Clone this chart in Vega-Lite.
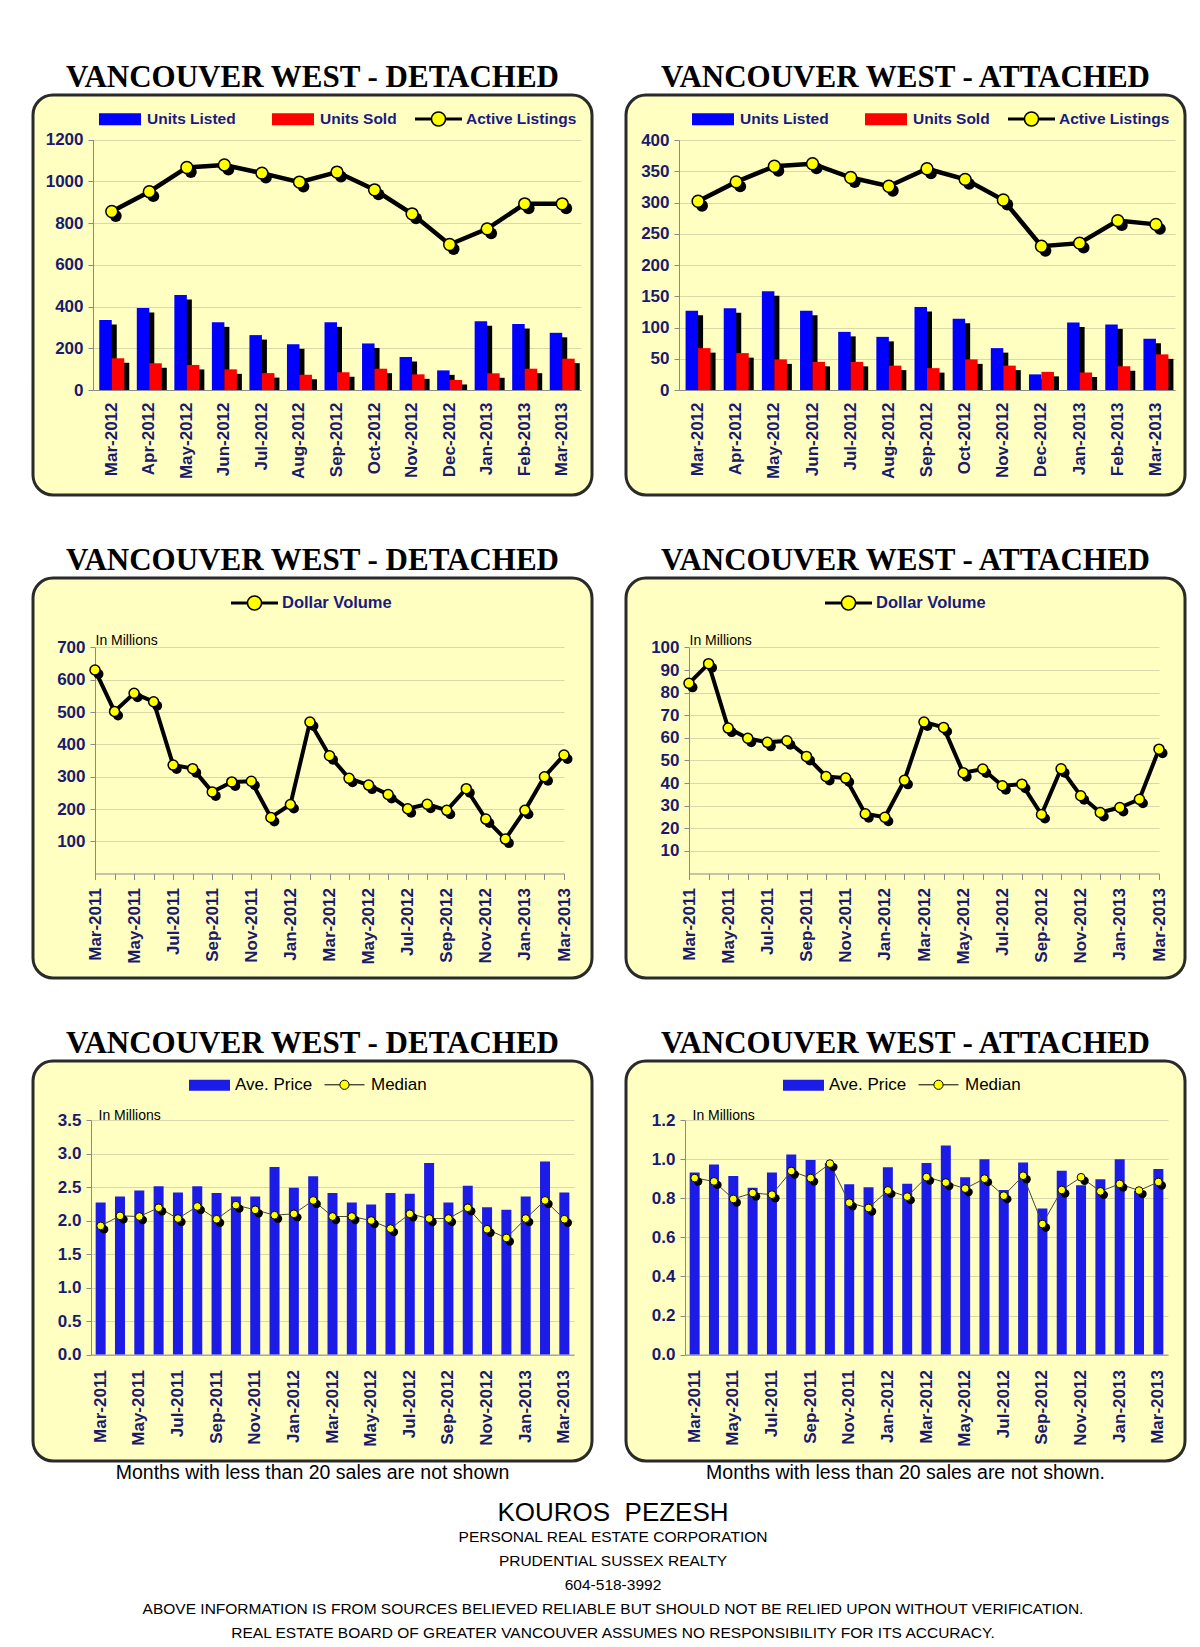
{
"$schema": "https://vega.github.io/schema/vega-lite/v6.json",
"background": "white",
"padding": {"left": 31, "top": 60, "right": 8, "bottom": 2},
"config": {
  "view": {"stroke": null},
  "axis": {"labelFont": "Liberation Sans", "labelFontWeight": "bold", "labelFontSize": 17, "labelColor": "#1a1a6e", "domainColor": "#8a8a8a", "tickColor": "#8a8a8a", "gridColor": "#d8d8a8", "labelOverlap": false, "titleFont": "Liberation Sans", "titleFontWeight": "normal", "titleFontSize": 14, "titleColor": "black"},
  "legend": {"labelFont": "Liberation Sans", "labelFontWeight": "bold", "labelFontSize": 15.5, "labelColor": "#1a1a80", "orient": "none", "direction": "horizontal", "padding": 0, "labelLimit": 300},
  "title": {"font": "Liberation Serif", "fontSize": 31, "fontWeight": "bold", "color": "black", "anchor": "middle", "offset": 1}
},
"resolve": {"scale": {"fill": "independent", "stroke": "independent"}, "legend": {"fill": "independent", "stroke": "independent"}},
"datasets": {
  "det_units": [
    {"month": "Mar-2012", "Units Listed": 335, "Units Sold": 152, "Active Listings": 855},
    {"month": "Apr-2012", "Units Listed": 393, "Units Sold": 128, "Active Listings": 950},
    {"month": "May-2012", "Units Listed": 455, "Units Sold": 120, "Active Listings": 1066},
    {"month": "Jun-2012", "Units Listed": 324, "Units Sold": 99, "Active Listings": 1078},
    {"month": "Jul-2012", "Units Listed": 263, "Units Sold": 81, "Active Listings": 1039},
    {"month": "Aug-2012", "Units Listed": 219, "Units Sold": 73, "Active Listings": 996},
    {"month": "Sep-2012", "Units Listed": 324, "Units Sold": 85, "Active Listings": 1044},
    {"month": "Oct-2012", "Units Listed": 223, "Units Sold": 102, "Active Listings": 959},
    {"month": "Nov-2012", "Units Listed": 158, "Units Sold": 75, "Active Listings": 844},
    {"month": "Dec-2012", "Units Listed": 94, "Units Sold": 48, "Active Listings": 697},
    {"month": "Jan-2013", "Units Listed": 329, "Units Sold": 80, "Active Listings": 772},
    {"month": "Feb-2013", "Units Listed": 316, "Units Sold": 102, "Active Listings": 892},
    {"month": "Mar-2013", "Units Listed": 274, "Units Sold": 150, "Active Listings": 892}
  ],
  "att_units": [
    {"month": "Mar-2012", "Units Listed": 127, "Units Sold": 67, "Active Listings": 302},
    {"month": "Apr-2012", "Units Listed": 131, "Units Sold": 59, "Active Listings": 333},
    {"month": "May-2012", "Units Listed": 158, "Units Sold": 49, "Active Listings": 358},
    {"month": "Jun-2012", "Units Listed": 127, "Units Sold": 45, "Active Listings": 362},
    {"month": "Jul-2012", "Units Listed": 93, "Units Sold": 45, "Active Listings": 340},
    {"month": "Aug-2012", "Units Listed": 85, "Units Sold": 39, "Active Listings": 326},
    {"month": "Sep-2012", "Units Listed": 133, "Units Sold": 35, "Active Listings": 354},
    {"month": "Oct-2012", "Units Listed": 114, "Units Sold": 49, "Active Listings": 337},
    {"month": "Nov-2012", "Units Listed": 67, "Units Sold": 39, "Active Listings": 304},
    {"month": "Dec-2012", "Units Listed": 25, "Units Sold": 29, "Active Listings": 230},
    {"month": "Jan-2013", "Units Listed": 108, "Units Sold": 28, "Active Listings": 235},
    {"month": "Feb-2013", "Units Listed": 105, "Units Sold": 38, "Active Listings": 271},
    {"month": "Mar-2013", "Units Listed": 82, "Units Sold": 57, "Active Listings": 265}
  ],
  "det_monthly": [
    {"month": "Mar-2011", "Dollar Volume": 630, "Ave Price": 2.27, "Median": 1.92},
    {"month": "Apr-2011", "Dollar Volume": 502, "Ave Price": 2.36, "Median": 2.07},
    {"month": "May-2011", "Dollar Volume": 558, "Ave Price": 2.45, "Median": 2.06},
    {"month": "Jun-2011", "Dollar Volume": 532, "Ave Price": 2.51, "Median": 2.19},
    {"month": "Jul-2011", "Dollar Volume": 336, "Ave Price": 2.42, "Median": 2.03},
    {"month": "Aug-2011", "Dollar Volume": 325, "Ave Price": 2.51, "Median": 2.21},
    {"month": "Sep-2011", "Dollar Volume": 253, "Ave Price": 2.41, "Median": 2.02},
    {"month": "Oct-2011", "Dollar Volume": 284, "Ave Price": 2.36, "Median": 2.23},
    {"month": "Nov-2011", "Dollar Volume": 286, "Ave Price": 2.36, "Median": 2.16},
    {"month": "Dec-2011", "Dollar Volume": 174, "Ave Price": 2.80, "Median": 2.08},
    {"month": "Jan-2012", "Dollar Volume": 214, "Ave Price": 2.49, "Median": 2.10},
    {"month": "Feb-2012", "Dollar Volume": 469, "Ave Price": 2.66, "Median": 2.30},
    {"month": "Mar-2012", "Dollar Volume": 365, "Ave Price": 2.41, "Median": 2.06},
    {"month": "Apr-2012", "Dollar Volume": 295, "Ave Price": 2.27, "Median": 2.06},
    {"month": "May-2012", "Dollar Volume": 274, "Ave Price": 2.24, "Median": 2.00},
    {"month": "Jun-2012", "Dollar Volume": 245, "Ave Price": 2.41, "Median": 1.88},
    {"month": "Jul-2012", "Dollar Volume": 201, "Ave Price": 2.40, "Median": 2.10},
    {"month": "Aug-2012", "Dollar Volume": 215, "Ave Price": 2.86, "Median": 2.03},
    {"month": "Sep-2012", "Dollar Volume": 196, "Ave Price": 2.27, "Median": 2.03},
    {"month": "Oct-2012", "Dollar Volume": 263, "Ave Price": 2.52, "Median": 2.19},
    {"month": "Nov-2012", "Dollar Volume": 169, "Ave Price": 2.20, "Median": 1.87},
    {"month": "Dec-2012", "Dollar Volume": 107, "Ave Price": 2.16, "Median": 1.74},
    {"month": "Jan-2013", "Dollar Volume": 196, "Ave Price": 2.36, "Median": 2.03},
    {"month": "Feb-2013", "Dollar Volume": 300, "Ave Price": 2.88, "Median": 2.30},
    {"month": "Mar-2013", "Dollar Volume": 367, "Ave Price": 2.42, "Median": 2.02}
  ],
  "att_monthly": [
    {"month": "Mar-2011", "Dollar Volume": 84.1, "Ave Price": 0.932, "Median": 0.903},
    {"month": "Apr-2011", "Dollar Volume": 92.8, "Ave Price": 0.973, "Median": 0.886},
    {"month": "May-2011", "Dollar Volume": 64.3, "Ave Price": 0.914, "Median": 0.796},
    {"month": "Jun-2011", "Dollar Volume": 59.8, "Ave Price": 0.854, "Median": 0.827},
    {"month": "Jul-2011", "Dollar Volume": 58.0, "Ave Price": 0.932, "Median": 0.818},
    {"month": "Aug-2011", "Dollar Volume": 58.7, "Ave Price": 1.024, "Median": 0.939},
    {"month": "Sep-2011", "Dollar Volume": 51.8, "Ave Price": 0.995, "Median": 0.903},
    {"month": "Oct-2011", "Dollar Volume": 42.9, "Ave Price": 0.980, "Median": 0.977},
    {"month": "Nov-2011", "Dollar Volume": 42.2, "Ave Price": 0.871, "Median": 0.777},
    {"month": "Dec-2011", "Dollar Volume": 26.4, "Ave Price": 0.856, "Median": 0.750},
    {"month": "Jan-2012", "Dollar Volume": 24.9, "Ave Price": 0.958, "Median": 0.840},
    {"month": "Feb-2012", "Dollar Volume": 41.2, "Ave Price": 0.874, "Median": 0.808},
    {"month": "Mar-2012", "Dollar Volume": 67.0, "Ave Price": 0.980, "Median": 0.908},
    {"month": "Apr-2012", "Dollar Volume": 64.6, "Ave Price": 1.070, "Median": 0.880},
    {"month": "May-2012", "Dollar Volume": 44.6, "Ave Price": 0.907, "Median": 0.849},
    {"month": "Jun-2012", "Dollar Volume": 46.2, "Ave Price": 0.999, "Median": 0.900},
    {"month": "Jul-2012", "Dollar Volume": 38.8, "Ave Price": 0.842, "Median": 0.813},
    {"month": "Aug-2012", "Dollar Volume": 39.5, "Ave Price": 0.982, "Median": 0.915},
    {"month": "Sep-2012", "Dollar Volume": 26.1, "Ave Price": 0.747, "Median": 0.668},
    {"month": "Oct-2012", "Dollar Volume": 46.3, "Ave Price": 0.941, "Median": 0.842},
    {"month": "Nov-2012", "Dollar Volume": 34.4, "Ave Price": 0.866, "Median": 0.907},
    {"month": "Dec-2012", "Dollar Volume": 27.0, "Ave Price": 0.897, "Median": 0.835},
    {"month": "Jan-2013", "Dollar Volume": 29.2, "Ave Price": 0.999, "Median": 0.873},
    {"month": "Feb-2013", "Dollar Volume": 32.8, "Ave Price": 0.837, "Median": 0.839},
    {"month": "Mar-2013", "Dollar Volume": 55.0, "Ave Price": 0.949, "Median": 0.883}
  ]
},
"vconcat": [
 {"spacing": 46,
  "resolve": {"scale": {"fill": "independent", "stroke": "independent"}, "legend": {"fill": "independent", "stroke": "independent"}},
  "vconcat": [
  {"spacing": 30,
   "resolve": {"scale": {"fill": "independent", "stroke": "independent"}, "legend": {"fill": "independent", "stroke": "independent"}},
   "hconcat": [
   {
    "width": 559, "height": 400,
    "view": {"fill": "#ffffc2", "stroke": "#2a2a2a", "strokeWidth": 3, "cornerRadius": 20},
    "title": {"text": "VANCOUVER WEST - DETACHED"},
    "data": {"name": "det_units"},
    "encoding": {
      "x": {"field": "month", "type": "nominal", "sort": null, "scale": {"range": [60, 548], "paddingInner": 0, "paddingOuter": 0},
            "axis": {"title": null, "labelAngle": -90, "ticks": false, "grid": false, "offset": -105, "labelPadding": 12}},
      "y": {"field": "value", "type": "quantitative", "stack": null, "scale": {"domain": [0, 1200], "range": [295, 44.5], "nice": false},
            "axis": {"title": null, "values": [0, 200, 400, 600, 800, 1000, 1200], "format": "d", "offset": -60, "grid": true, "labelPadding": 5}}
    },
    "layer": [
      {"transform": [{"fold": ["Units Listed"], "as": ["series", "value"]}], "mark": {"type": "bar", "width": 12.5, "xOffset": -1.25, "yOffset": 4.5, "color": "black"}},
      {"transform": [{"fold": ["Units Sold"], "as": ["series", "value"]}], "mark": {"type": "bar", "width": 12.5, "xOffset": 11.25, "yOffset": 4.5, "color": "black"}},
      {"transform": [{"fold": ["Units Listed"], "as": ["series", "value"]}], "mark": {"type": "bar", "width": 12.5, "xOffset": -6.25},
       "encoding": {"fill": {"field": "series", "type": "nominal", "scale": {"domain": ["Units Listed", "Units Sold"], "range": ["#0000ff", "#ff0000"]},
         "legend": {"title": null, "legendX": 65, "legendY": 2, "symbolType": "M-1,-0.28H1V0.28H-1Z", "symbolSize": 1764, "labelOffset": 5, "columnPadding": 35}}}},
      {"transform": [{"fold": ["Units Sold"], "as": ["series", "value"]}], "mark": {"type": "bar", "width": 12.5, "xOffset": 6.25},
       "encoding": {"fill": {"field": "series", "type": "nominal"}}},
      {"transform": [{"fold": ["Active Listings"], "as": ["series", "value"]}], "mark": {"type": "line", "color": "black", "strokeWidth": 4.5}, "encoding": {}},
      {"transform": [{"fold": ["Active Listings"], "as": ["series", "value"]}], "mark": {"type": "point", "filled": true, "color": "black", "opacity": 1, "size": 140, "xOffset": 4, "yOffset": 4.5}},
      {"transform": [{"fold": ["Active Listings"], "as": ["series", "value"]}], "mark": {"type": "point", "filled": true, "fill": "#ffff00", "opacity": 1, "size": 140, "strokeWidth": 1.5},
       "encoding": {"stroke": {"field": "series", "type": "nominal", "scale": {"domain": ["Active Listings"], "range": ["black"]},
         "legend": {"title": null, "legendX": 381, "legendY": -0.5, "symbolType": "M-1,-0.035H-0.3M-1,0.035H-0.3M0.3,-0.035H1M0.3,0.035H1M0.3,0A0.3,0.3 0 1,1 -0.3,0A0.3,0.3 0 1,1 0.3,0Z", "symbolSize": 2209, "symbolStrokeWidth": 1.6, "symbolFillColor": "#ffff00", "labelOffset": 3}}}}
    ]
   },
   {
    "width": 559, "height": 400,
    "view": {"fill": "#ffffc2", "stroke": "#2a2a2a", "strokeWidth": 3, "cornerRadius": 20},
    "title": {"text": "VANCOUVER WEST - ATTACHED"},
    "data": {"name": "att_units"},
    "encoding": {
      "x": {"field": "month", "type": "nominal", "sort": null, "scale": {"range": [53, 549], "paddingInner": 0, "paddingOuter": 0},
            "axis": {"title": null, "labelAngle": -90, "ticks": false, "grid": false, "offset": -105, "labelPadding": 12}},
      "y": {"field": "value", "type": "quantitative", "stack": null, "scale": {"domain": [0, 400], "range": [295, 45], "nice": false},
            "axis": {"title": null, "values": [0, 50, 100, 150, 200, 250, 300, 350, 400], "format": "d", "offset": -53, "grid": true, "labelPadding": 5}}
    },
    "layer": [
      {"transform": [{"fold": ["Units Listed"], "as": ["series", "value"]}], "mark": {"type": "bar", "width": 12.5, "xOffset": -1.25, "yOffset": 4.5, "color": "black"}},
      {"transform": [{"fold": ["Units Sold"], "as": ["series", "value"]}], "mark": {"type": "bar", "width": 12.5, "xOffset": 11.25, "yOffset": 4.5, "color": "black"}},
      {"transform": [{"fold": ["Units Listed"], "as": ["series", "value"]}], "mark": {"type": "bar", "width": 12.5, "xOffset": -6.25},
       "encoding": {"fill": {"field": "series", "type": "nominal", "scale": {"domain": ["Units Listed", "Units Sold"], "range": ["#0000ff", "#ff0000"]},
         "legend": {"title": null, "legendX": 65, "legendY": 2, "symbolType": "M-1,-0.28H1V0.28H-1Z", "symbolSize": 1764, "labelOffset": 5, "columnPadding": 35}}}},
      {"transform": [{"fold": ["Units Sold"], "as": ["series", "value"]}], "mark": {"type": "bar", "width": 12.5, "xOffset": 6.25},
       "encoding": {"fill": {"field": "series", "type": "nominal"}}},
      {"transform": [{"fold": ["Active Listings"], "as": ["series", "value"]}], "mark": {"type": "line", "color": "black", "strokeWidth": 4.5}, "encoding": {}},
      {"transform": [{"fold": ["Active Listings"], "as": ["series", "value"]}], "mark": {"type": "point", "filled": true, "color": "black", "opacity": 1, "size": 140, "xOffset": 4, "yOffset": 4.5}},
      {"transform": [{"fold": ["Active Listings"], "as": ["series", "value"]}], "mark": {"type": "point", "filled": true, "fill": "#ffff00", "opacity": 1, "size": 140, "strokeWidth": 1.5},
       "encoding": {"stroke": {"field": "series", "type": "nominal", "scale": {"domain": ["Active Listings"], "range": ["black"]},
         "legend": {"title": null, "legendX": 381, "legendY": -0.5, "symbolType": "M-1,-0.035H-0.3M-1,0.035H-0.3M0.3,-0.035H1M0.3,0.035H1M0.3,0A0.3,0.3 0 1,1 -0.3,0A0.3,0.3 0 1,1 0.3,0Z", "symbolSize": 2209, "symbolStrokeWidth": 1.6, "symbolFillColor": "#ffff00", "labelOffset": 3}}}}
    ]
   }
  ]},
  {"spacing": 30,
   "resolve": {"scale": {"fill": "independent", "stroke": "independent"}, "legend": {"fill": "independent", "stroke": "independent"}},
   "hconcat": [
   {
    "width": 559, "height": 400,
    "view": {"fill": "#ffffc2", "stroke": "#2a2a2a", "strokeWidth": 3, "cornerRadius": 20},
    "title": {"text": "VANCOUVER WEST - DETACHED"},
    "data": {"name": "det_monthly"},
    "encoding": {
      "x": {"field": "month", "type": "nominal", "sort": null, "scale": {"type": "point", "range": [62, 531], "padding": 0},
            "axis": {"title": null, "labelAngle": -90, "ticks": true, "tickSize": 6, "grid": false, "offset": -104.5, "labelPadding": 8,
                     "labelExpr": "indexof('Mar May Jul Sep Nov Jan', slice(datum.label, 0, 3)) >= 0 ? datum.label : ''"}},
      "y": {"field": "value", "type": "quantitative", "scale": {"domain": [0, 700], "range": [295.7, 69.4], "nice": false},
            "axis": {"title": "In Millions", "titleAngle": 0, "titleAlign": "left", "titleBaseline": "alphabetic", "titleX": 0, "titleY": 66.5,
                     "values": [100, 200, 300, 400, 500, 600, 700], "offset": -62, "grid": true, "labelPadding": 5}}
    },
    "layer": [
      {"transform": [{"fold": ["Dollar Volume"], "as": ["series", "value"]}], "mark": {"type": "line", "color": "black", "strokeWidth": 4}, "encoding": {}},
      {"transform": [{"fold": ["Dollar Volume"], "as": ["series", "value"]}], "mark": {"type": "point", "filled": true, "color": "black", "opacity": 1, "size": 100, "xOffset": 3.5, "yOffset": 4}},
      {"transform": [{"fold": ["Dollar Volume"], "as": ["series", "value"]}], "mark": {"type": "point", "filled": true, "fill": "#ffff00", "opacity": 1, "size": 100, "strokeWidth": 1.5},
       "encoding": {"stroke": {"field": "series", "type": "nominal", "scale": {"domain": ["Dollar Volume"], "range": ["black"]},
         "legend": {"title": null, "legendX": 197, "legendY": 0.5, "symbolType": "M-1,-0.035H-0.3M-1,0.035H-0.3M0.3,-0.035H1M0.3,0.035H1M0.3,0A0.3,0.3 0 1,1 -0.3,0A0.3,0.3 0 1,1 0.3,0Z", "symbolSize": 2209, "symbolStrokeWidth": 1.6, "symbolFillColor": "#ffff00", "labelOffset": 3, "labelFontSize": 16.5}}}}
    ]
   },
   {
    "width": 559, "height": 400,
    "view": {"fill": "#ffffc2", "stroke": "#2a2a2a", "strokeWidth": 3, "cornerRadius": 20},
    "title": {"text": "VANCOUVER WEST - ATTACHED"},
    "data": {"name": "att_monthly"},
    "encoding": {
      "x": {"field": "month", "type": "nominal", "sort": null, "scale": {"type": "point", "range": [63, 533], "padding": 0},
            "axis": {"title": null, "labelAngle": -90, "ticks": true, "tickSize": 6, "grid": false, "offset": -104.5, "labelPadding": 8,
                     "labelExpr": "indexof('Mar May Jul Sep Nov Jan', slice(datum.label, 0, 3)) >= 0 ? datum.label : ''"}},
      "y": {"field": "value", "type": "quantitative", "scale": {"domain": [0, 100], "range": [295.5, 69.4], "nice": false},
            "axis": {"title": "In Millions", "titleAngle": 0, "titleAlign": "left", "titleBaseline": "alphabetic", "titleX": 0, "titleY": 66.5,
                     "values": [10, 20, 30, 40, 50, 60, 70, 80, 90, 100], "offset": -63, "grid": true, "labelPadding": 5}}
    },
    "layer": [
      {"transform": [{"fold": ["Dollar Volume"], "as": ["series", "value"]}], "mark": {"type": "line", "color": "black", "strokeWidth": 4}, "encoding": {}},
      {"transform": [{"fold": ["Dollar Volume"], "as": ["series", "value"]}], "mark": {"type": "point", "filled": true, "color": "black", "opacity": 1, "size": 100, "xOffset": 3.5, "yOffset": 4}},
      {"transform": [{"fold": ["Dollar Volume"], "as": ["series", "value"]}], "mark": {"type": "point", "filled": true, "fill": "#ffff00", "opacity": 1, "size": 100, "strokeWidth": 1.5},
       "encoding": {"stroke": {"field": "series", "type": "nominal", "scale": {"domain": ["Dollar Volume"], "range": ["black"]},
         "legend": {"title": null, "legendX": 198, "legendY": 0.5, "symbolType": "M-1,-0.035H-0.3M-1,0.035H-0.3M0.3,-0.035H1M0.3,0.035H1M0.3,0A0.3,0.3 0 1,1 -0.3,0A0.3,0.3 0 1,1 0.3,0Z", "symbolSize": 2209, "symbolStrokeWidth": 1.6, "symbolFillColor": "#ffff00", "labelOffset": 3, "labelFontSize": 16.5}}}}
    ]
   }
  ]},
  {"spacing": 30,
   "resolve": {"scale": {"fill": "independent", "stroke": "independent"}, "legend": {"fill": "independent", "stroke": "independent"}},
   "hconcat": [
   {"title": {"text": "Months with less than 20 sales are not shown", "orient": "bottom", "font": "Liberation Sans", "fontSize": 19.5, "fontWeight": "normal", "color": "black", "offset": 1},
    "resolve": {"scale": {"fill": "independent", "stroke": "independent"}, "legend": {"fill": "independent", "stroke": "independent"}},
    "vconcat": [
    {
    "width": 559, "height": 400,
    "view": {"fill": "#ffffc2", "stroke": "#2a2a2a", "strokeWidth": 3, "cornerRadius": 20},
    "title": {"text": "VANCOUVER WEST - DETACHED"},
    "data": {"name": "det_monthly"},
    "encoding": {
      "x": {"field": "month", "type": "nominal", "sort": null, "scale": {"range": [58, 541], "paddingInner": 0, "paddingOuter": 0},
            "axis": {"title": null, "labelAngle": -90, "ticks": false, "grid": false, "offset": -106.4, "labelPadding": 15,
                     "labelExpr": "indexof('Mar May Jul Sep Nov Jan', slice(datum.label, 0, 3)) >= 0 ? datum.label : ''"}},
      "y": {"field": "value", "type": "quantitative", "stack": null, "scale": {"domain": [0, 3.5], "range": [293.6, 59], "nice": false},
            "axis": {"title": "In Millions", "titleAngle": 0, "titleAlign": "left", "titleBaseline": "alphabetic", "titleX": 7, "titleY": 58,
                     "values": [0, 0.5, 1, 1.5, 2, 2.5, 3, 3.5], "format": ".1f", "offset": -58, "grid": true, "labelPadding": 5}}
    },
    "layer": [
      {"transform": [{"fold": ["Ave Price"], "as": ["series", "value"]}], "mark": {"type": "bar", "width": 10},
       "encoding": {"fill": {"field": "series", "type": "nominal", "scale": {"domain": ["Ave Price"], "range": ["#1c1ce6"]},
         "legend": {"title": null, "legendX": 155, "legendY": 2.8, "symbolType": "M-1,-0.27H1V0.27H-1Z", "symbolSize": 1681, "labelOffset": 4, "labelFont": "Liberation Sans", "labelFontWeight": "normal", "labelFontSize": 17, "labelColor": "black", "labelExpr": "'Ave. Price'"}}}},
      {"transform": [{"fold": ["Median"], "as": ["series", "value"]}], "mark": {"type": "line", "color": "#444444", "strokeWidth": 1}, "encoding": {}},
      {"transform": [{"fold": ["Median"], "as": ["series", "value"]}], "mark": {"type": "point", "filled": true, "color": "black", "opacity": 1, "size": 70, "xOffset": 3.5, "yOffset": 3.5}},
      {"transform": [{"fold": ["Median"], "as": ["series", "value"]}], "mark": {"type": "point", "filled": true, "fill": "#ffff00", "opacity": 1, "size": 60, "strokeWidth": 1},
       "encoding": {"stroke": {"field": "series", "type": "nominal", "scale": {"domain": ["Median"], "range": ["black"]},
         "legend": {"title": null, "legendX": 291, "legendY": 3.3, "symbolType": "M-1,0H-0.23M0.23,0H1M0.23,0A0.23,0.23 0 1,1 -0.23,0A0.23,0.23 0 1,1 0.23,0Z", "symbolSize": 1600, "symbolStrokeWidth": 1, "symbolFillColor": "#ffff00", "labelOffset": 6, "labelFont": "Liberation Sans", "labelFontWeight": "normal", "labelFontSize": 17, "labelColor": "black"}}}}
    ]
    }
   ]},
   {"title": {"text": "Months with less than 20 sales are not shown.", "orient": "bottom", "font": "Liberation Sans", "fontSize": 19.5, "fontWeight": "normal", "color": "black", "offset": 1},
    "resolve": {"scale": {"fill": "independent", "stroke": "independent"}, "legend": {"fill": "independent", "stroke": "independent"}},
    "vconcat": [
    {
    "width": 559, "height": 400,
    "view": {"fill": "#ffffc2", "stroke": "#2a2a2a", "strokeWidth": 3, "cornerRadius": 20},
    "title": {"text": "VANCOUVER WEST - ATTACHED"},
    "data": {"name": "att_monthly"},
    "encoding": {
      "x": {"field": "month", "type": "nominal", "sort": null, "scale": {"range": [59, 542], "paddingInner": 0, "paddingOuter": 0},
            "axis": {"title": null, "labelAngle": -90, "ticks": false, "grid": false, "offset": -106.4, "labelPadding": 15,
                     "labelExpr": "indexof('Mar May Jul Sep Nov Jan', slice(datum.label, 0, 3)) >= 0 ? datum.label : ''"}},
      "y": {"field": "value", "type": "quantitative", "stack": null, "scale": {"domain": [0, 1.2], "range": [293.6, 59], "nice": false},
            "axis": {"title": "In Millions", "titleAngle": 0, "titleAlign": "left", "titleBaseline": "alphabetic", "titleX": 7, "titleY": 58,
                     "values": [0, 0.2, 0.4, 0.6, 0.8, 1, 1.2], "format": ".1f", "offset": -59, "grid": true, "labelPadding": 5}}
    },
    "layer": [
      {"transform": [{"fold": ["Ave Price"], "as": ["series", "value"]}], "mark": {"type": "bar", "width": 10},
       "encoding": {"fill": {"field": "series", "type": "nominal", "scale": {"domain": ["Ave Price"], "range": ["#1c1ce6"]},
         "legend": {"title": null, "legendX": 156, "legendY": 2.8, "symbolType": "M-1,-0.27H1V0.27H-1Z", "symbolSize": 1681, "labelOffset": 4, "labelFont": "Liberation Sans", "labelFontWeight": "normal", "labelFontSize": 17, "labelColor": "black", "labelExpr": "'Ave. Price'"}}}},
      {"transform": [{"fold": ["Median"], "as": ["series", "value"]}], "mark": {"type": "line", "color": "#444444", "strokeWidth": 1}, "encoding": {}},
      {"transform": [{"fold": ["Median"], "as": ["series", "value"]}], "mark": {"type": "point", "filled": true, "color": "black", "opacity": 1, "size": 70, "xOffset": 3.5, "yOffset": 3.5}},
      {"transform": [{"fold": ["Median"], "as": ["series", "value"]}], "mark": {"type": "point", "filled": true, "fill": "#ffff00", "opacity": 1, "size": 60, "strokeWidth": 1},
       "encoding": {"stroke": {"field": "series", "type": "nominal", "scale": {"domain": ["Median"], "range": ["black"]},
         "legend": {"title": null, "legendX": 292, "legendY": 3.3, "symbolType": "M-1,0H-0.23M0.23,0H1M0.23,0A0.23,0.23 0 1,1 -0.23,0A0.23,0.23 0 1,1 0.23,0Z", "symbolSize": 1600, "symbolStrokeWidth": 1, "symbolFillColor": "#ffff00", "labelOffset": 6, "labelFont": "Liberation Sans", "labelFontWeight": "normal", "labelFontSize": 17, "labelColor": "black"}}}}
    ]
    }
   ]}
  ]}
 ]},
 {
  "width": 1160, "height": 1,
  "view": {"stroke": null, "fill": null},
  "data": {"values": [{"t": ""}]},
  "mark": {"type": "text"},
  "encoding": {"text": {"field": "t"}},
  "title": {"text": "KOUROS\u00a0 PEZESH",
            "subtitle": ["PERSONAL REAL ESTATE CORPORATION", "PRUDENTIAL SUSSEX REALTY", "604-518-3992", "ABOVE INFORMATION IS FROM SOURCES BELIEVED RELIABLE BUT SHOULD NOT BE RELIED UPON WITHOUT VERIFICATION.", "REAL ESTATE BOARD OF GREATER VANCOUVER ASSUMES NO RESPONSIBILITY FOR ITS ACCURACY."],
            "font": "Liberation Sans", "fontSize": 26, "fontWeight": "normal", "color": "black",
            "subtitleFont": "Liberation Sans", "subtitleFontSize": 15.5, "subtitleColor": "black",
            "subtitlePadding": 4, "subtitleLineHeight": 24, "anchor": "middle", "offset": 2}
 }
],
"spacing": 18
}
